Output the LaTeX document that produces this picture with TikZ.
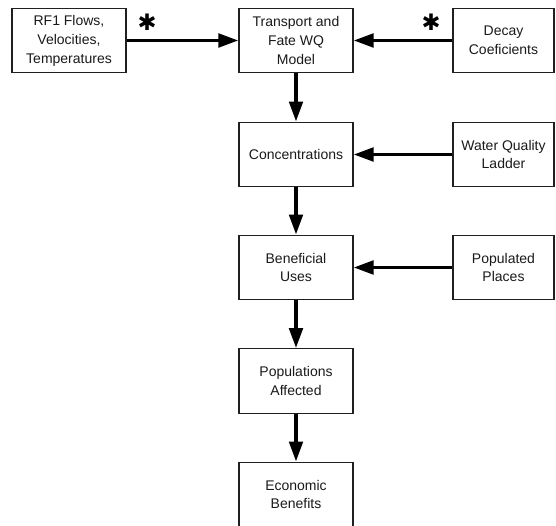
\documentclass[tikz,border=0pt]{standalone}
\usepackage{fontspec}
\setmainfont{Liberation Sans}
\newfontfamily\symfont{DejaVu Sans}
\usetikzlibrary{arrows.meta}
\definecolor{edge}{HTML}{202020}
\definecolor{txt}{HTML}{1A1A1A}
\begin{document}
\begin{tikzpicture}[x=0.75pt,y=-0.75pt,
  box/.style={draw=edge, line width=0.8pt, align=center, inner sep=0pt,
    minimum width=85.5pt, minimum height=48.5pt, text=txt,
    font=\fontsize{10.5}{14.2}\selectfont},
  rbox/.style={box, minimum width=75.75pt},
  arr/.style={line width=2.9pt, -{Triangle[length=15pt,width=10pt]}},
  star/.style={inner sep=0pt, font=\symfont\fontsize{17}{17}\selectfont}]
\useasboundingbox (0,0) rectangle (556,525);
\clip (0,0) rectangle (556,525);
\fill[white] (0,0) rectangle (556,525);
\node[box] (rf) at (69,40.5) {RF1 Flows,\\Velocities,\\Temperatures};
\node[box] (tr) at (296,40.5) {Transport and\\Fate WQ\\Model};
\node[rbox] (dc) at (503.5,40.5) {Decay\\Coeficients};
\node[box] (co) at (296,154.5) {Concentrations};
\node[rbox] (wq) at (503.5,154.5) {Water Quality\\Ladder};
\node[box] (bu) at (296,267.5) {Beneficial\\Uses};
\node[rbox] (pp) at (503.5,267.5) {Populated\\Places};
\node[box] (pa) at (296,381) {Populations\\Affected};
\node[box] (eb) at (296,494.5) {Economic\\Benefits};
\node[star] (s1) at (147,22) {✱};
\node[star] (s2) at (431,22) {✱};
\draw[arr] (rf) -- (tr);
\draw[arr] (dc) -- (tr);
\draw[arr] (wq) -- (co);
\draw[arr] (pp) -- (bu);
\draw[arr] (tr) -- (co);
\draw[arr] (co) -- (bu);
\draw[arr] (bu) -- (pa);
\draw[arr] (pa) -- (eb);
\end{tikzpicture}
\end{document}
